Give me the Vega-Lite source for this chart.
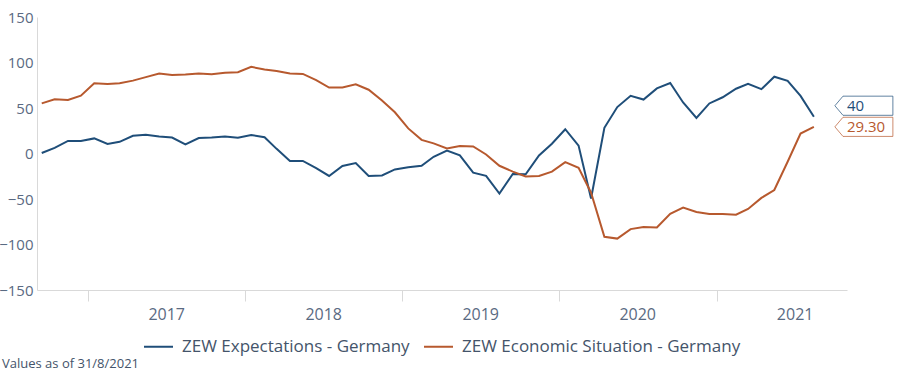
{
  "$schema": "https://vega.github.io/schema/vega-lite/v6.json",
  "width": 810,
  "height": 273,
  "autosize": {"type": "none"},
  "padding": {"left": 37, "top": 17, "right": 55, "bottom": 86},
  "config": {
    "view": {"stroke": null},
    "font": "Open Sans",
    "axis": {"labelFont": "Open Sans", "labelColor": "#5a6a82", "labelFontSize": 16, "grid": false, "domainColor": "#d9d9d9", "tickColor": "#d9d9d9"},
    "legend": {"labelFont": "Open Sans", "labelColor": "#44546a", "labelFontSize": 17, "labelLimit": 400}
  },
  "title": {"text": "Values as of 31/8/2021", "orient": "bottom", "anchor": "start", "frame": "group", "fontSize": 13, "fontWeight": "normal", "color": "#44546a", "font": "Open Sans", "dx": -35, "dy": 3, "offset": 0, "baseline": "top"},
  "datasets": {
    "zew": [
      {"date": "2016-09-15", "series": "ZEW Expectations - Germany", "value": 0.5},
      {"date": "2016-10-15", "series": "ZEW Expectations - Germany", "value": 6.2},
      {"date": "2016-11-15", "series": "ZEW Expectations - Germany", "value": 13.8},
      {"date": "2016-12-15", "series": "ZEW Expectations - Germany", "value": 13.8},
      {"date": "2017-01-15", "series": "ZEW Expectations - Germany", "value": 16.6},
      {"date": "2017-02-15", "series": "ZEW Expectations - Germany", "value": 10.4},
      {"date": "2017-03-15", "series": "ZEW Expectations - Germany", "value": 12.8},
      {"date": "2017-04-15", "series": "ZEW Expectations - Germany", "value": 19.5},
      {"date": "2017-05-15", "series": "ZEW Expectations - Germany", "value": 20.6},
      {"date": "2017-06-15", "series": "ZEW Expectations - Germany", "value": 18.6},
      {"date": "2017-07-15", "series": "ZEW Expectations - Germany", "value": 17.5},
      {"date": "2017-08-15", "series": "ZEW Expectations - Germany", "value": 10.0},
      {"date": "2017-09-15", "series": "ZEW Expectations - Germany", "value": 17.0},
      {"date": "2017-10-15", "series": "ZEW Expectations - Germany", "value": 17.6},
      {"date": "2017-11-15", "series": "ZEW Expectations - Germany", "value": 18.7},
      {"date": "2017-12-15", "series": "ZEW Expectations - Germany", "value": 17.4},
      {"date": "2018-01-15", "series": "ZEW Expectations - Germany", "value": 20.4},
      {"date": "2018-02-15", "series": "ZEW Expectations - Germany", "value": 17.8},
      {"date": "2018-03-15", "series": "ZEW Expectations - Germany", "value": 5.1},
      {"date": "2018-04-15", "series": "ZEW Expectations - Germany", "value": -8.2},
      {"date": "2018-05-15", "series": "ZEW Expectations - Germany", "value": -8.2},
      {"date": "2018-06-15", "series": "ZEW Expectations - Germany", "value": -16.1},
      {"date": "2018-07-15", "series": "ZEW Expectations - Germany", "value": -24.7},
      {"date": "2018-08-15", "series": "ZEW Expectations - Germany", "value": -13.7},
      {"date": "2018-09-15", "series": "ZEW Expectations - Germany", "value": -10.6},
      {"date": "2018-10-15", "series": "ZEW Expectations - Germany", "value": -24.7},
      {"date": "2018-11-15", "series": "ZEW Expectations - Germany", "value": -24.1},
      {"date": "2018-12-15", "series": "ZEW Expectations - Germany", "value": -17.5},
      {"date": "2019-01-15", "series": "ZEW Expectations - Germany", "value": -15.0},
      {"date": "2019-02-15", "series": "ZEW Expectations - Germany", "value": -13.4},
      {"date": "2019-03-15", "series": "ZEW Expectations - Germany", "value": -3.6},
      {"date": "2019-04-15", "series": "ZEW Expectations - Germany", "value": 3.1},
      {"date": "2019-05-15", "series": "ZEW Expectations - Germany", "value": -2.1},
      {"date": "2019-06-15", "series": "ZEW Expectations - Germany", "value": -21.1},
      {"date": "2019-07-15", "series": "ZEW Expectations - Germany", "value": -24.5},
      {"date": "2019-08-15", "series": "ZEW Expectations - Germany", "value": -44.1},
      {"date": "2019-09-15", "series": "ZEW Expectations - Germany", "value": -22.5},
      {"date": "2019-10-15", "series": "ZEW Expectations - Germany", "value": -22.8},
      {"date": "2019-11-15", "series": "ZEW Expectations - Germany", "value": -2.1},
      {"date": "2019-12-15", "series": "ZEW Expectations - Germany", "value": 10.7},
      {"date": "2020-01-15", "series": "ZEW Expectations - Germany", "value": 26.7},
      {"date": "2020-02-15", "series": "ZEW Expectations - Germany", "value": 8.7},
      {"date": "2020-03-15", "series": "ZEW Expectations - Germany", "value": -49.5},
      {"date": "2020-04-15", "series": "ZEW Expectations - Germany", "value": 28.2},
      {"date": "2020-05-15", "series": "ZEW Expectations - Germany", "value": 51.0},
      {"date": "2020-06-15", "series": "ZEW Expectations - Germany", "value": 63.4},
      {"date": "2020-07-15", "series": "ZEW Expectations - Germany", "value": 59.3},
      {"date": "2020-08-15", "series": "ZEW Expectations - Germany", "value": 71.5},
      {"date": "2020-09-15", "series": "ZEW Expectations - Germany", "value": 77.4},
      {"date": "2020-10-15", "series": "ZEW Expectations - Germany", "value": 56.1},
      {"date": "2020-11-15", "series": "ZEW Expectations - Germany", "value": 39.0},
      {"date": "2020-12-15", "series": "ZEW Expectations - Germany", "value": 55.0},
      {"date": "2021-01-15", "series": "ZEW Expectations - Germany", "value": 61.8},
      {"date": "2021-02-15", "series": "ZEW Expectations - Germany", "value": 71.2},
      {"date": "2021-03-15", "series": "ZEW Expectations - Germany", "value": 76.6},
      {"date": "2021-04-15", "series": "ZEW Expectations - Germany", "value": 70.7},
      {"date": "2021-05-15", "series": "ZEW Expectations - Germany", "value": 84.4},
      {"date": "2021-06-15", "series": "ZEW Expectations - Germany", "value": 79.8},
      {"date": "2021-07-15", "series": "ZEW Expectations - Germany", "value": 63.3},
      {"date": "2021-08-15", "series": "ZEW Expectations - Germany", "value": 40.4},
      {"date": "2016-09-15", "series": "ZEW Economic Situation - Germany", "value": 55.1},
      {"date": "2016-10-15", "series": "ZEW Economic Situation - Germany", "value": 59.5},
      {"date": "2016-11-15", "series": "ZEW Economic Situation - Germany", "value": 58.8},
      {"date": "2016-12-15", "series": "ZEW Economic Situation - Germany", "value": 63.5},
      {"date": "2017-01-15", "series": "ZEW Economic Situation - Germany", "value": 77.3},
      {"date": "2017-02-15", "series": "ZEW Economic Situation - Germany", "value": 76.4},
      {"date": "2017-03-15", "series": "ZEW Economic Situation - Germany", "value": 77.3},
      {"date": "2017-04-15", "series": "ZEW Economic Situation - Germany", "value": 80.1},
      {"date": "2017-05-15", "series": "ZEW Economic Situation - Germany", "value": 83.9},
      {"date": "2017-06-15", "series": "ZEW Economic Situation - Germany", "value": 88.0},
      {"date": "2017-07-15", "series": "ZEW Economic Situation - Germany", "value": 86.4},
      {"date": "2017-08-15", "series": "ZEW Economic Situation - Germany", "value": 86.7},
      {"date": "2017-09-15", "series": "ZEW Economic Situation - Germany", "value": 87.9},
      {"date": "2017-10-15", "series": "ZEW Economic Situation - Germany", "value": 87.0},
      {"date": "2017-11-15", "series": "ZEW Economic Situation - Germany", "value": 88.8},
      {"date": "2017-12-15", "series": "ZEW Economic Situation - Germany", "value": 89.3},
      {"date": "2018-01-15", "series": "ZEW Economic Situation - Germany", "value": 95.2},
      {"date": "2018-02-15", "series": "ZEW Economic Situation - Germany", "value": 92.3},
      {"date": "2018-03-15", "series": "ZEW Economic Situation - Germany", "value": 90.7},
      {"date": "2018-04-15", "series": "ZEW Economic Situation - Germany", "value": 87.9},
      {"date": "2018-05-15", "series": "ZEW Economic Situation - Germany", "value": 87.4},
      {"date": "2018-06-15", "series": "ZEW Economic Situation - Germany", "value": 80.6},
      {"date": "2018-07-15", "series": "ZEW Economic Situation - Germany", "value": 72.4},
      {"date": "2018-08-15", "series": "ZEW Economic Situation - Germany", "value": 72.6},
      {"date": "2018-09-15", "series": "ZEW Economic Situation - Germany", "value": 76.0},
      {"date": "2018-10-15", "series": "ZEW Economic Situation - Germany", "value": 70.1},
      {"date": "2018-11-15", "series": "ZEW Economic Situation - Germany", "value": 58.2},
      {"date": "2018-12-15", "series": "ZEW Economic Situation - Germany", "value": 45.3},
      {"date": "2019-01-15", "series": "ZEW Economic Situation - Germany", "value": 27.6},
      {"date": "2019-02-15", "series": "ZEW Economic Situation - Germany", "value": 15.0},
      {"date": "2019-03-15", "series": "ZEW Economic Situation - Germany", "value": 11.1},
      {"date": "2019-04-15", "series": "ZEW Economic Situation - Germany", "value": 5.5},
      {"date": "2019-05-15", "series": "ZEW Economic Situation - Germany", "value": 8.2},
      {"date": "2019-06-15", "series": "ZEW Economic Situation - Germany", "value": 7.8},
      {"date": "2019-07-15", "series": "ZEW Economic Situation - Germany", "value": -1.1},
      {"date": "2019-08-15", "series": "ZEW Economic Situation - Germany", "value": -13.5},
      {"date": "2019-09-15", "series": "ZEW Economic Situation - Germany", "value": -19.9},
      {"date": "2019-10-15", "series": "ZEW Economic Situation - Germany", "value": -25.3},
      {"date": "2019-11-15", "series": "ZEW Economic Situation - Germany", "value": -24.7},
      {"date": "2019-12-15", "series": "ZEW Economic Situation - Germany", "value": -19.9},
      {"date": "2020-01-15", "series": "ZEW Economic Situation - Germany", "value": -9.5},
      {"date": "2020-02-15", "series": "ZEW Economic Situation - Germany", "value": -15.7},
      {"date": "2020-03-15", "series": "ZEW Economic Situation - Germany", "value": -43.1},
      {"date": "2020-04-15", "series": "ZEW Economic Situation - Germany", "value": -91.5},
      {"date": "2020-05-15", "series": "ZEW Economic Situation - Germany", "value": -93.5},
      {"date": "2020-06-15", "series": "ZEW Economic Situation - Germany", "value": -83.1},
      {"date": "2020-07-15", "series": "ZEW Economic Situation - Germany", "value": -80.9},
      {"date": "2020-08-15", "series": "ZEW Economic Situation - Germany", "value": -81.3},
      {"date": "2020-09-15", "series": "ZEW Economic Situation - Germany", "value": -66.2},
      {"date": "2020-10-15", "series": "ZEW Economic Situation - Germany", "value": -59.5},
      {"date": "2020-11-15", "series": "ZEW Economic Situation - Germany", "value": -64.3},
      {"date": "2020-12-15", "series": "ZEW Economic Situation - Germany", "value": -66.5},
      {"date": "2021-01-15", "series": "ZEW Economic Situation - Germany", "value": -66.4},
      {"date": "2021-02-15", "series": "ZEW Economic Situation - Germany", "value": -67.2},
      {"date": "2021-03-15", "series": "ZEW Economic Situation - Germany", "value": -61.0},
      {"date": "2021-04-15", "series": "ZEW Economic Situation - Germany", "value": -48.8},
      {"date": "2021-05-15", "series": "ZEW Economic Situation - Germany", "value": -40.1},
      {"date": "2021-06-15", "series": "ZEW Economic Situation - Germany", "value": -9.1},
      {"date": "2021-07-15", "series": "ZEW Economic Situation - Germany", "value": 21.9},
      {"date": "2021-08-15", "series": "ZEW Economic Situation - Germany", "value": 29.3}
    ],
    "last": [
      {"date": "2021-08-15", "series": "ZEW Expectations - Germany", "value": 40.4, "label": "40"},
      {"date": "2021-08-15", "series": "ZEW Economic Situation - Germany", "value": 29.3, "label": "29.30"}
    ]
  },
  "encoding": {
    "x": {"field": "date", "type": "temporal", "title": null,
      "scale": {"domain": ["2016-09-04", "2021-10-31"]},
      "axis": {"tickCount": {"interval": "year", "step": 1}, "format": "%Y", "labelOffset": 78, "labelFlush": false, "labelBound": false, "labelOverlap": false, "tickSize": 11, "labelPadding": 5, "domain": true}},
    "y": {"field": "value", "type": "quantitative", "title": null,
      "scale": {"domain": [-150, 150], "nice": false},
      "axis": {"values": [-150, -100, -50, 0, 50, 100, 150], "ticks": false, "labelPadding": 4, "labelFontSize": 15, "domain": true}},
    "color": {"field": "series", "type": "nominal", "title": null,
      "scale": {"domain": ["ZEW Expectations - Germany", "ZEW Economic Situation - Germany"], "range": ["#1f4e79", "#b7592e"]},
      "legend": {"orient": "none", "legendX": 106, "legendY": 314, "direction": "horizontal", "symbolType": "stroke", "symbolSize": 841, "symbolStrokeWidth": 2, "labelOffset": 8, "columnPadding": 10}}
  },
  "layer": [
    {"data": {"name": "zew"}, "mark": {"type": "line", "strokeWidth": 2}},
    {"data": {"name": "last"}, "transform": [{"filter": "datum.label == '40'"}],
      "mark": {"type": "point", "shape": "M-1,0L-0.72,-0.33L1,-0.33L1,0.33L-0.72,0.33Z", "size": 3364, "filled": true, "fill": "white", "fillOpacity": 1, "strokeWidth": 1, "strokeOpacity": 0.7, "xOffset": 50, "yOffset": -11},
      "encoding": {"stroke": {"field": "series", "type": "nominal", "legend": null, "scale": {"domain": ["ZEW Expectations - Germany", "ZEW Economic Situation - Germany"], "range": ["#1f4e79", "#b7592e"]}}, "color": {"value": "white"}}},
    {"data": {"name": "last"}, "transform": [{"filter": "datum.label == '29.30'"}],
      "mark": {"type": "point", "shape": "M-1,0L-0.72,-0.33L1,-0.33L1,0.33L-0.72,0.33Z", "size": 3364, "filled": true, "fill": "white", "fillOpacity": 1, "strokeWidth": 1, "strokeOpacity": 0.7, "xOffset": 50, "yOffset": 0},
      "encoding": {"stroke": {"field": "series", "type": "nominal", "legend": null, "scale": {"domain": ["ZEW Expectations - Germany", "ZEW Economic Situation - Germany"], "range": ["#1f4e79", "#b7592e"]}}, "color": {"value": "white"}}},
    {"data": {"name": "last"}, "transform": [{"filter": "datum.label == '40'"}],
      "mark": {"type": "text", "align": "left", "baseline": "middle", "dx": 33, "dy": -11, "fontSize": 15, "font": "Open Sans"},
      "encoding": {"text": {"field": "label"}}},
    {"data": {"name": "last"}, "transform": [{"filter": "datum.label == '29.30'"}],
      "mark": {"type": "text", "align": "left", "baseline": "middle", "dx": 33, "dy": 0, "fontSize": 15, "font": "Open Sans"},
      "encoding": {"text": {"field": "label"}}}
  ]
}
